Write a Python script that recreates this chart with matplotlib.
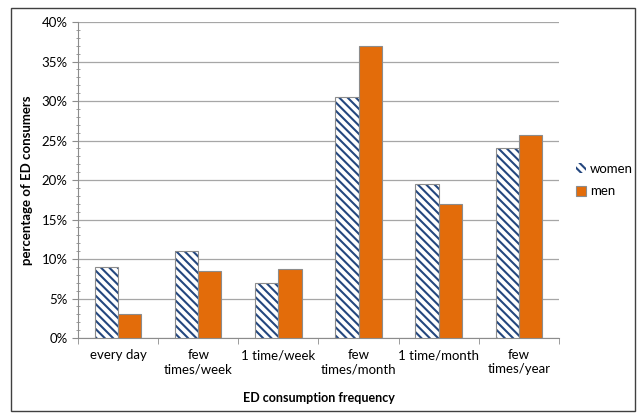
import numpy as np
import matplotlib
matplotlib.use('Agg')
import matplotlib.pyplot as plt
from matplotlib.patches import Rectangle
from matplotlib.ticker import MultipleLocator, PercentFormatter

# values (percent)
categories = ['every day', 'few\ntimes/week', '1 time/week',
              'few\ntimes/month', '1 time/month', 'few\ntimes/year']
women = [9.0, 11.0, 7.0, 30.5, 19.5, 24.0]
men = [3.0, 8.5, 8.7, 37.0, 17.0, 25.7]

plt.rcParams['font.family'] = ['Lato', 'DejaVu Sans']
plt.rcParams['hatch.linewidth'] = 1.5

fig = plt.figure(figsize=(6.41, 4.13), dpi=100)
ax = fig.add_axes([0.1217, 0.1816, 0.7503, 0.7651])

# outer chart frame
fig.patches.append(Rectangle((11 / 641, 2 / 413), 624 / 641, 403 / 413,
                             transform=fig.transFigure, fill=False,
                             edgecolor='#404040', linewidth=1.0))

x = np.arange(len(categories))
w = 0.29
# hatch takes the edge colour, so draw the stripes first and the grey outline on top
ax.bar(x - w / 2, women, w, color='white', edgecolor='#24477f',
       hatch='\\\\\\\\', linewidth=0, label='women', zorder=3)
ax.bar(x - w / 2, women, w, fill=False, edgecolor='#8c8c8c',
       linewidth=0.8, zorder=4)
ax.bar(x + w / 2, men, w, color='#e36c0a', edgecolor='#8c8c8c',
       linewidth=0.8, label='men', zorder=3)

ax.set_xlim(-0.5, len(categories) - 0.5)
ax.set_ylim(0, 40)
ax.yaxis.set_major_locator(MultipleLocator(5))
ax.yaxis.set_minor_locator(MultipleLocator(1))
ax.yaxis.set_major_formatter(PercentFormatter(decimals=0))
ax.grid(axis='y', which='major', color='#a6a6a6', linewidth=0.9, zorder=0)

ax.set_xticks(x)
ax.set_xticklabels(categories, fontsize=9.5)
ax.set_xticks(np.arange(-0.5, len(categories)), minor=True)
ax.tick_params(axis='x', which='major', length=0, pad=8)
ax.tick_params(axis='x', which='minor', length=4, color='#8c8c8c', direction='out')
ax.tick_params(axis='y', which='major', length=4, color='#8c8c8c', labelsize=9.5)
ax.tick_params(axis='y', which='minor', length=2.5, color='#8c8c8c', direction='inout')

for side in ['top', 'right']:
    ax.spines[side].set_visible(False)
ax.spines['left'].set_color('#8c8c8c')
ax.spines['bottom'].set_color('#8c8c8c')

ax.set_ylabel('percentage of ED consumers', fontsize=9.5, fontweight='bold', labelpad=6)
ax.set_xlabel('ED consumption frequency', fontsize=9, fontweight='bold', labelpad=12)

ax.legend(loc='center left', bbox_to_anchor=(1.01, 0.5), frameon=False,
          fontsize=9.5, handlelength=0.8, handleheight=0.8, handletextpad=0.3,
          labelspacing=0.8)

fig.savefig('out.png', dpi=100)
